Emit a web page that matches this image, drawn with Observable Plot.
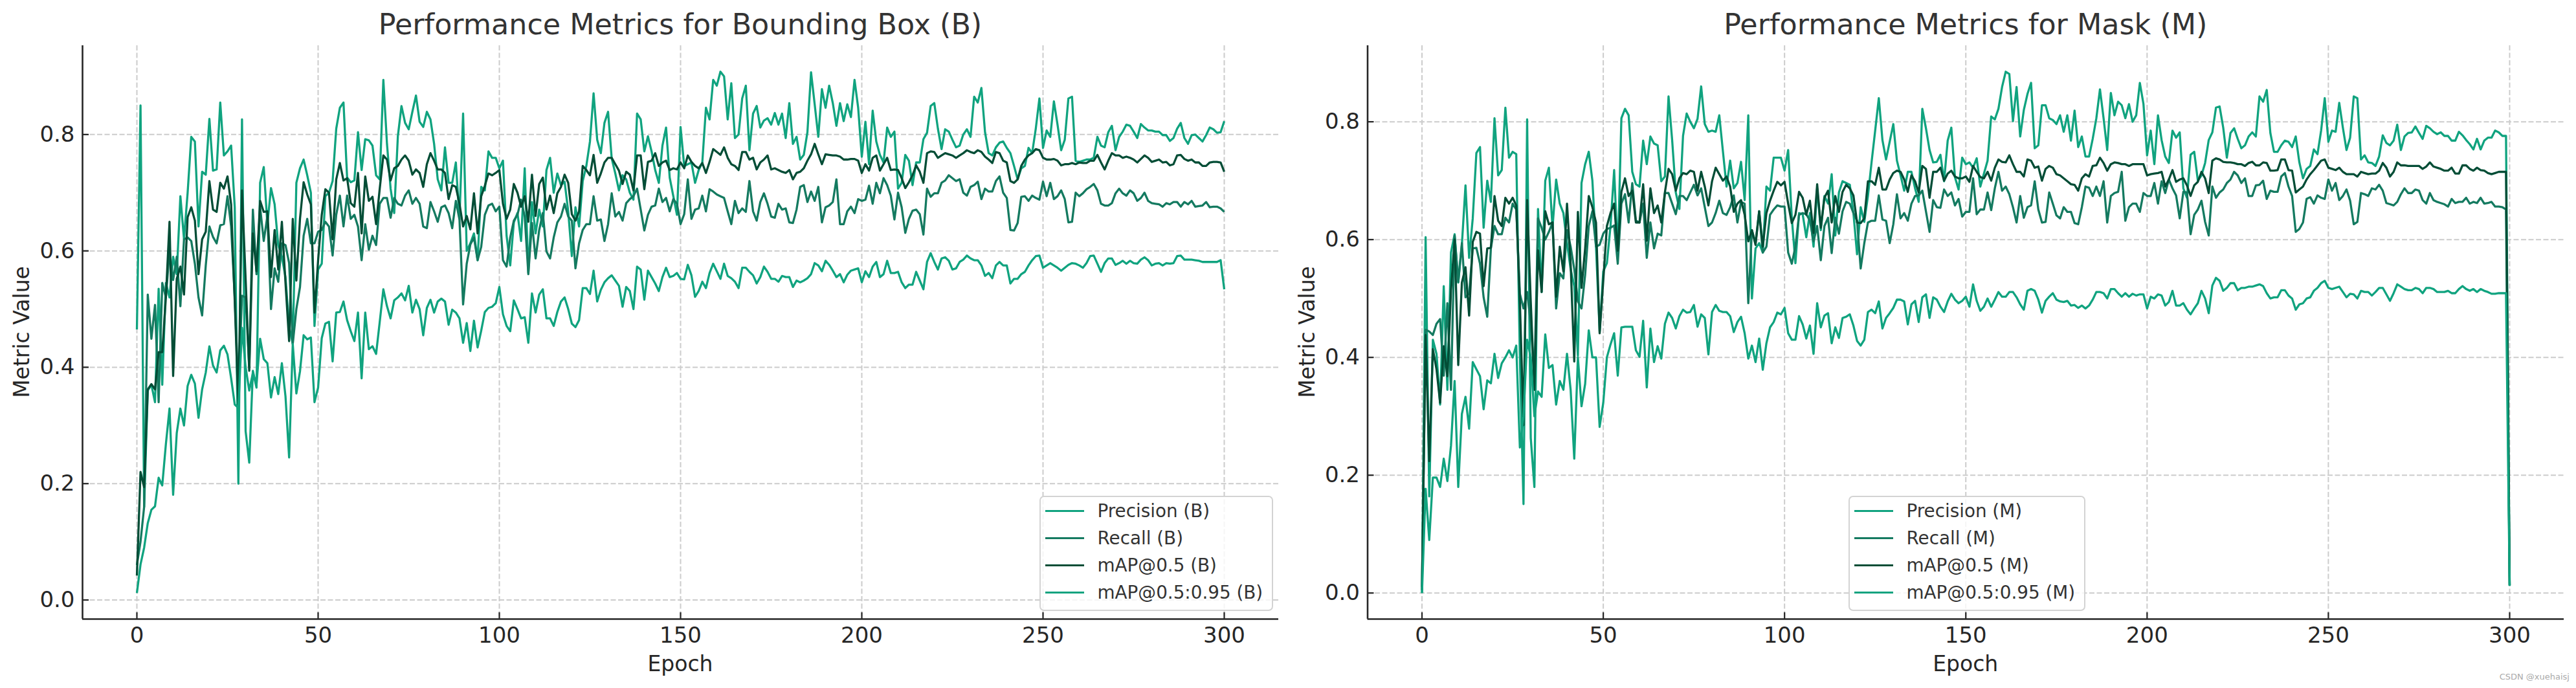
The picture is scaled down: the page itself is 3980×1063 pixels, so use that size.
<!DOCTYPE html>
<html><head><meta charset="utf-8">
<script src="https://cdn.jsdelivr.net/npm/d3@7"></script>
<script src="https://cdn.jsdelivr.net/npm/@observablehq/plot@0.6"></script>
<style>
html,body{margin:0;padding:0;background:#fff;}
#fig{position:relative;width:3980px;height:1063px;overflow:hidden;font-family:"DejaVu Sans",sans-serif;color:#262626;background:#fff;}
.panel{position:absolute;top:0;}
.txt{position:absolute;white-space:nowrap;line-height:1;}
.title{font-size:44.4px;color:#333;transform:translateX(-50%);}
.xlabel{font-size:33px;color:#262626;transform:translateX(-50%);}
.ylabel{font-size:33px;color:#262626;transform:translate(-50%,-50%) rotate(-90deg);}
.legend{position:absolute;box-sizing:border-box;border:2.5px solid #d3d3d3;border-radius:7px;background:rgba(255,255,255,0.8);padding:0.5px 14px 0 0;}
.legend .row{height:42px;display:flex;align-items:center;font-size:27.8px;color:#333;white-space:nowrap;}
.legend .sw{width:60px;height:3.4px;margin-left:6.5px;margin-right:21px;}
.wm{font-size:13px;color:#aaa;}
</style>
</head><body>
<div id="fig"></div>
<script>
// ---------- data ----------
const epochs = d3.range(0, 301);
const xTicks = [0, 50, 100, 150, 200, 250, 300];
const yTicks = [0, 0.2, 0.4, 0.6, 0.8];
const namesB = ["Precision (B)", "Recall (B)", "mAP@0.5 (B)", "mAP@0.5:0.95 (B)"];
const namesM = ["Precision (M)", "Recall (M)", "mAP@0.5 (M)", "mAP@0.5:0.95 (M)"];
const titles = ["Performance Metrics for Bounding Box (B)", "Performance Metrics for Mask (M)"];
const colors = ["#10a37f", "#147a60", "#034d36", "#10a37f"];

const precisionB = [0.465,0.85,0.16,0.36,0.37,0.34,0.535,0.37,0.545,0.52,
0.59,0.56,0.694,0.62,0.70,0.796,0.788,0.642,0.736,0.731,
0.827,0.738,0.74,0.855,0.764,0.771,0.781,0.675,0.20,0.826,
0.29,0.236,0.394,0.365,0.717,0.744,0.646,0.708,0.68,0.61,
0.59,0.555,0.47,0.44,0.717,0.742,0.757,0.73,0.70,0.471,
0.568,0.578,0.694,0.70,0.72,0.81,0.846,0.855,0.726,0.718,
0.721,0.804,0.739,0.792,0.79,0.781,0.73,0.723,0.894,0.784,
0.707,0.665,0.797,0.849,0.82,0.809,0.839,0.867,0.822,0.813,
0.839,0.826,0.784,0.723,0.704,0.778,0.717,0.717,0.752,0.655,
0.836,0.60,0.613,0.63,0.584,0.71,0.704,0.771,0.76,0.76,
0.742,0.755,0.626,0.575,0.649,0.665,0.617,0.742,0.562,0.684,
0.63,0.671,0.642,0.739,0.76,0.70,0.733,0.713,0.719,0.668,
0.591,0.675,0.642,0.72,0.746,0.788,0.871,0.791,0.768,0.82,
0.839,0.759,0.733,0.704,0.73,0.723,0.70,0.688,0.836,0.826,
0.771,0.797,0.771,0.739,0.717,0.781,0.812,0.726,0.694,0.662,
0.813,0.746,0.749,0.752,0.717,0.739,0.752,0.846,0.826,0.894,
0.884,0.908,0.90,0.826,0.888,0.794,0.80,0.862,0.884,0.773,
0.836,0.849,0.812,0.824,0.828,0.817,0.837,0.817,0.836,0.794,
0.854,0.784,0.796,0.757,0.765,0.804,0.907,0.852,0.796,0.878,
0.846,0.884,0.854,0.815,0.854,0.823,0.852,0.83,0.894,0.846,
0.762,0.822,0.749,0.841,0.788,0.765,0.752,0.812,0.796,0.805,
0.707,0.717,0.765,0.755,0.713,0.752,0.752,0.792,0.803,0.849,
0.854,0.81,0.775,0.809,0.805,0.791,0.778,0.781,0.80,0.809,
0.796,0.865,0.855,0.88,0.804,0.768,0.764,0.778,0.786,0.788,
0.777,0.768,0.746,0.723,0.742,0.746,0.777,0.768,0.81,0.862,
0.777,0.807,0.796,0.857,0.817,0.773,0.791,0.862,0.865,0.755,
0.753,0.755,0.757,0.757,0.76,0.796,0.781,0.778,0.804,0.815,
0.773,0.796,0.805,0.817,0.815,0.805,0.794,0.818,0.812,0.807,
0.807,0.805,0.805,0.799,0.799,0.789,0.794,0.81,0.82,0.794,
0.784,0.799,0.80,0.794,0.788,0.799,0.812,0.809,0.803,0.804,
0.823];

const recallB = [0.06,0.10,0.16,0.525,0.449,0.507,0.34,0.545,0.52,0.60,
0.55,0.59,0.505,0.62,0.623,0.617,0.578,0.52,0.489,0.575,
0.642,0.624,0.613,0.644,0.646,0.694,0.642,0.52,0.36,0.523,
0.52,0.40,0.671,0.56,0.675,0.617,0.66,0.50,0.57,0.547,
0.613,0.61,0.579,0.44,0.50,0.538,0.626,0.655,0.613,0.613,
0.633,0.636,0.65,0.642,0.592,0.662,0.695,0.642,0.695,0.655,
0.662,0.642,0.584,0.646,0.602,0.626,0.61,0.681,0.691,0.691,
0.657,0.691,0.681,0.678,0.695,0.704,0.681,0.691,0.681,0.642,
0.639,0.684,0.668,0.65,0.675,0.678,0.665,0.639,0.686,0.654,
0.508,0.578,0.611,0.623,0.584,0.607,0.662,0.678,0.681,0.668,
0.676,0.584,0.573,0.623,0.652,0.662,0.688,0.659,0.56,0.648,
0.587,0.636,0.665,0.599,0.587,0.623,0.649,0.659,0.681,0.659,
0.652,0.57,0.613,0.636,0.646,0.646,0.694,0.652,0.654,0.617,
0.646,0.699,0.659,0.667,0.652,0.682,0.689,0.694,0.707,0.671,
0.635,0.662,0.676,0.678,0.707,0.684,0.691,0.668,0.689,0.681,
0.646,0.663,0.723,0.655,0.671,0.673,0.695,0.668,0.706,0.702,
0.697,0.694,0.691,0.668,0.646,0.686,0.665,0.673,0.667,0.72,
0.668,0.652,0.684,0.699,0.681,0.659,0.657,0.681,0.671,0.673,
0.649,0.648,0.671,0.71,0.713,0.684,0.702,0.686,0.71,0.649,
0.675,0.678,0.684,0.723,0.646,0.646,0.668,0.676,0.665,0.689,
0.686,0.688,0.712,0.681,0.717,0.699,0.725,0.713,0.695,0.654,
0.70,0.675,0.631,0.655,0.669,0.671,0.663,0.628,0.707,0.693,
0.699,0.699,0.717,0.721,0.73,0.725,0.72,0.723,0.70,0.695,
0.71,0.713,0.719,0.689,0.707,0.702,0.702,0.72,0.728,0.70,
0.691,0.636,0.635,0.648,0.693,0.694,0.686,0.695,0.691,0.688,
0.719,0.694,0.717,0.689,0.694,0.704,0.689,0.649,0.65,0.70,
0.694,0.699,0.706,0.71,0.715,0.704,0.681,0.678,0.678,0.682,
0.699,0.707,0.699,0.695,0.704,0.699,0.686,0.691,0.70,0.686,
0.682,0.681,0.68,0.676,0.682,0.68,0.684,0.684,0.676,0.684,
0.68,0.686,0.676,0.677,0.678,0.684,0.675,0.676,0.676,0.673,
0.667];

const map50B = [0.042,0.22,0.194,0.362,0.371,0.362,0.426,0.426,0.52,0.65,
0.385,0.552,0.573,0.525,0.658,0.675,0.652,0.56,0.62,0.633,
0.72,0.671,0.667,0.717,0.707,0.728,0.68,0.513,0.332,0.704,
0.552,0.394,0.63,0.565,0.686,0.667,0.668,0.555,0.636,0.568,
0.65,0.545,0.445,0.655,0.549,0.655,0.718,0.697,0.68,0.494,
0.584,0.662,0.706,0.70,0.62,0.723,0.751,0.721,0.725,0.682,
0.676,0.734,0.63,0.728,0.686,0.693,0.646,0.707,0.764,0.757,
0.721,0.742,0.746,0.757,0.764,0.755,0.731,0.74,0.734,0.71,
0.749,0.768,0.755,0.74,0.74,0.734,0.689,0.713,0.71,0.681,
0.642,0.66,0.637,0.699,0.63,0.694,0.712,0.733,0.73,0.734,
0.739,0.681,0.655,0.671,0.715,0.70,0.676,0.694,0.65,0.731,
0.66,0.715,0.726,0.671,0.695,0.665,0.699,0.71,0.731,0.717,
0.663,0.652,0.668,0.746,0.739,0.73,0.765,0.717,0.733,0.752,
0.76,0.76,0.749,0.738,0.715,0.736,0.731,0.704,0.764,0.764,
0.706,0.753,0.755,0.768,0.746,0.752,0.755,0.739,0.742,0.74,
0.752,0.742,0.764,0.753,0.746,0.742,0.751,0.734,0.753,0.775,
0.77,0.765,0.778,0.76,0.749,0.746,0.739,0.77,0.77,0.757,
0.76,0.74,0.752,0.757,0.764,0.74,0.742,0.739,0.736,0.734,
0.739,0.723,0.734,0.736,0.742,0.755,0.766,0.784,0.766,0.749,
0.766,0.765,0.764,0.764,0.762,0.757,0.757,0.758,0.758,0.755,
0.734,0.749,0.738,0.76,0.764,0.738,0.749,0.76,0.739,0.74,
0.739,0.725,0.708,0.718,0.73,0.747,0.736,0.717,0.768,0.771,
0.77,0.76,0.764,0.768,0.766,0.764,0.76,0.764,0.768,0.773,
0.77,0.768,0.773,0.77,0.762,0.757,0.751,0.77,0.768,0.755,
0.752,0.72,0.717,0.723,0.746,0.757,0.764,0.768,0.775,0.773,
0.76,0.757,0.757,0.758,0.755,0.747,0.749,0.749,0.751,0.749,
0.752,0.751,0.751,0.755,0.755,0.765,0.752,0.74,0.755,0.768,
0.764,0.764,0.76,0.762,0.76,0.757,0.752,0.758,0.764,0.76,
0.753,0.755,0.757,0.752,0.753,0.747,0.749,0.764,0.765,0.758,
0.755,0.757,0.752,0.752,0.746,0.746,0.752,0.753,0.753,0.752,
0.736];

const map5095B = [0.012,0.061,0.09,0.132,0.155,0.161,0.21,0.197,0.268,0.329,
0.181,0.287,0.329,0.30,0.368,0.387,0.372,0.313,0.362,0.391,
0.436,0.403,0.391,0.429,0.437,0.422,0.381,0.336,0.33,0.468,
0.40,0.36,0.39,0.37,0.449,0.414,0.407,0.348,0.383,0.354,
0.407,0.35,0.245,0.44,0.355,0.393,0.455,0.448,0.451,0.34,
0.365,0.45,0.475,0.478,0.41,0.494,0.495,0.513,0.481,0.462,
0.445,0.494,0.381,0.494,0.431,0.436,0.423,0.478,0.534,0.505,
0.484,0.515,0.52,0.527,0.515,0.54,0.494,0.516,0.50,0.455,
0.502,0.516,0.494,0.513,0.518,0.513,0.473,0.499,0.494,0.484,
0.442,0.476,0.428,0.48,0.434,0.463,0.495,0.502,0.504,0.51,
0.538,0.491,0.471,0.462,0.515,0.50,0.484,0.486,0.442,0.527,
0.494,0.525,0.534,0.484,0.484,0.471,0.495,0.513,0.52,0.50,
0.475,0.469,0.481,0.536,0.536,0.526,0.566,0.513,0.533,0.546,
0.553,0.558,0.549,0.54,0.504,0.538,0.531,0.50,0.573,0.568,
0.516,0.566,0.555,0.544,0.531,0.555,0.571,0.555,0.557,0.562,
0.552,0.551,0.576,0.558,0.521,0.531,0.547,0.536,0.562,0.578,
0.565,0.552,0.578,0.557,0.553,0.547,0.536,0.571,0.571,0.564,
0.558,0.544,0.555,0.573,0.564,0.552,0.552,0.547,0.557,0.555,
0.555,0.538,0.549,0.546,0.549,0.553,0.56,0.579,0.575,0.565,
0.583,0.576,0.566,0.555,0.56,0.546,0.559,0.566,0.568,0.57,
0.546,0.565,0.555,0.573,0.581,0.555,0.56,0.583,0.562,0.562,
0.564,0.546,0.536,0.542,0.542,0.564,0.549,0.534,0.581,0.596,
0.581,0.568,0.587,0.589,0.583,0.568,0.57,0.581,0.585,0.592,
0.587,0.584,0.584,0.575,0.557,0.562,0.553,0.575,0.581,0.575,
0.575,0.544,0.552,0.552,0.56,0.564,0.575,0.584,0.591,0.592,
0.571,0.575,0.579,0.575,0.571,0.566,0.571,0.576,0.579,0.578,
0.575,0.571,0.579,0.591,0.592,0.578,0.564,0.579,0.587,0.587,
0.576,0.579,0.583,0.578,0.583,0.579,0.578,0.585,0.589,0.584,
0.575,0.578,0.579,0.575,0.579,0.578,0.579,0.591,0.592,0.585,
0.585,0.585,0.584,0.583,0.581,0.581,0.581,0.581,0.581,0.584,
0.534];

const precisionM = [0.0,0.604,0.164,0.43,0.406,0.32,0.521,0.345,0.578,0.609,
0.527,0.591,0.692,0.569,0.636,0.747,0.757,0.62,0.70,0.664,
0.806,0.709,0.718,0.824,0.739,0.749,0.745,0.40,0.151,0.804,
0.263,0.18,0.652,0.511,0.70,0.722,0.62,0.702,0.661,0.645,
0.594,0.55,0.521,0.403,0.696,0.728,0.749,0.70,0.588,0.444,
0.546,0.56,0.623,0.718,0.575,0.806,0.822,0.811,0.715,0.694,
0.69,0.768,0.728,0.775,0.763,0.76,0.699,0.707,0.843,0.769,
0.68,0.652,0.776,0.814,0.80,0.789,0.805,0.86,0.796,0.783,
0.785,0.783,0.811,0.75,0.69,0.734,0.687,0.696,0.732,0.667,
0.811,0.50,0.585,0.594,0.578,0.69,0.683,0.739,0.739,0.739,
0.717,0.752,0.637,0.56,0.645,0.643,0.604,0.645,0.588,0.687,
0.616,0.674,0.661,0.711,0.607,0.68,0.699,0.696,0.693,0.645,
0.575,0.655,0.63,0.674,0.731,0.785,0.84,0.769,0.736,0.766,
0.796,0.734,0.709,0.683,0.715,0.715,0.687,0.664,0.822,0.789,
0.752,0.731,0.732,0.744,0.699,0.768,0.79,0.706,0.685,0.739,
0.728,0.731,0.722,0.738,0.69,0.712,0.734,0.809,0.804,0.822,
0.859,0.885,0.881,0.801,0.859,0.775,0.82,0.847,0.866,0.755,
0.76,0.828,0.828,0.806,0.803,0.796,0.811,0.783,0.811,0.768,
0.819,0.757,0.775,0.741,0.741,0.771,0.806,0.855,0.806,0.752,
0.849,0.811,0.834,0.828,0.806,0.83,0.80,0.811,0.866,0.83,
0.743,0.785,0.728,0.811,0.769,0.741,0.73,0.785,0.773,0.782,
0.687,0.671,0.744,0.749,0.70,0.709,0.73,0.769,0.782,0.824,
0.826,0.79,0.739,0.781,0.789,0.771,0.755,0.76,0.775,0.782,
0.775,0.843,0.834,0.854,0.781,0.749,0.749,0.76,0.768,0.766,
0.757,0.775,0.731,0.704,0.72,0.725,0.753,0.745,0.785,0.84,
0.766,0.785,0.783,0.832,0.79,0.752,0.773,0.843,0.84,0.736,
0.743,0.731,0.73,0.725,0.741,0.777,0.764,0.76,0.768,0.795,
0.752,0.775,0.781,0.782,0.792,0.781,0.771,0.793,0.789,0.783,
0.779,0.782,0.776,0.776,0.768,0.768,0.783,0.777,0.769,0.762,
0.753,0.771,0.753,0.768,0.773,0.773,0.785,0.782,0.776,0.776,
0.014];

const recallM = [0.01,0.447,0.444,0.438,0.457,0.465,0.369,0.492,0.345,0.607,
0.528,0.594,0.502,0.508,0.585,0.586,0.559,0.502,0.469,0.585,
0.623,0.609,0.609,0.637,0.629,0.661,0.651,0.508,0.483,0.511,
0.457,0.365,0.636,0.62,0.60,0.613,0.629,0.483,0.543,0.534,
0.616,0.588,0.55,0.495,0.483,0.54,0.623,0.648,0.588,0.591,
0.61,0.618,0.62,0.624,0.559,0.661,0.677,0.629,0.696,0.632,
0.629,0.661,0.569,0.629,0.585,0.61,0.607,0.679,0.679,0.661,
0.643,0.674,0.674,0.667,0.68,0.693,0.675,0.687,0.655,0.623,
0.629,0.645,0.666,0.645,0.642,0.655,0.675,0.629,0.664,0.661,
0.492,0.616,0.594,0.648,0.578,0.588,0.642,0.651,0.658,0.656,
0.656,0.578,0.559,0.588,0.642,0.645,0.643,0.632,0.597,0.623,
0.565,0.623,0.637,0.577,0.637,0.61,0.648,0.664,0.661,0.645,
0.632,0.551,0.594,0.629,0.632,0.632,0.675,0.634,0.632,0.594,
0.626,0.677,0.636,0.645,0.632,0.661,0.674,0.675,0.683,0.648,
0.613,0.667,0.655,0.654,0.685,0.674,0.68,0.658,0.669,0.639,
0.647,0.647,0.704,0.643,0.651,0.651,0.68,0.65,0.687,0.715,
0.683,0.69,0.677,0.655,0.629,0.674,0.637,0.655,0.658,0.699,
0.651,0.629,0.63,0.68,0.661,0.641,0.636,0.655,0.647,0.647,
0.628,0.626,0.655,0.69,0.688,0.674,0.69,0.674,0.699,0.629,
0.674,0.679,0.681,0.715,0.632,0.655,0.661,0.661,0.647,0.679,
0.674,0.674,0.696,0.661,0.699,0.679,0.702,0.687,0.675,0.636,
0.681,0.68,0.609,0.642,0.651,0.666,0.63,0.607,0.69,0.671,
0.68,0.685,0.696,0.702,0.715,0.709,0.696,0.704,0.674,0.674,
0.692,0.693,0.70,0.669,0.683,0.681,0.681,0.707,0.713,0.69,
0.674,0.613,0.618,0.629,0.669,0.672,0.661,0.675,0.671,0.669,
0.702,0.683,0.696,0.667,0.674,0.685,0.666,0.626,0.63,0.679,
0.677,0.674,0.687,0.685,0.693,0.683,0.662,0.66,0.658,0.664,
0.677,0.687,0.679,0.679,0.685,0.683,0.667,0.661,0.679,0.667,
0.664,0.662,0.66,0.656,0.669,0.662,0.664,0.664,0.671,0.661,
0.664,0.662,0.671,0.661,0.662,0.664,0.656,0.656,0.655,0.651,
0.013];

const map50M = [0.005,0.438,0.224,0.414,0.38,0.323,0.419,0.368,0.514,0.60,
0.387,0.527,0.553,0.471,0.596,0.613,0.61,0.521,0.585,0.586,
0.674,0.632,0.623,0.671,0.661,0.671,0.658,0.495,0.285,0.667,
0.495,0.345,0.582,0.511,0.648,0.626,0.629,0.503,0.588,0.546,
0.661,0.559,0.393,0.647,0.518,0.585,0.674,0.655,0.629,0.441,
0.53,0.623,0.645,0.661,0.581,0.681,0.704,0.674,0.683,0.629,
0.629,0.694,0.598,0.687,0.645,0.658,0.629,0.68,0.72,0.711,
0.683,0.704,0.713,0.711,0.717,0.715,0.683,0.715,0.69,0.658,
0.699,0.722,0.711,0.70,0.707,0.69,0.647,0.661,0.667,0.642,
0.597,0.616,0.591,0.648,0.588,0.645,0.666,0.683,0.698,0.692,
0.698,0.661,0.628,0.642,0.681,0.671,0.642,0.666,0.611,0.694,
0.62,0.671,0.683,0.629,0.674,0.647,0.681,0.693,0.687,0.675,
0.629,0.628,0.636,0.699,0.699,0.693,0.722,0.685,0.685,0.702,
0.713,0.717,0.715,0.702,0.681,0.709,0.699,0.68,0.725,0.72,
0.671,0.715,0.715,0.722,0.70,0.712,0.717,0.707,0.704,0.704,
0.707,0.698,0.725,0.715,0.706,0.704,0.715,0.70,0.722,0.736,
0.732,0.731,0.743,0.728,0.715,0.715,0.707,0.736,0.734,0.722,
0.724,0.70,0.72,0.725,0.722,0.711,0.709,0.704,0.699,0.694,
0.693,0.683,0.704,0.711,0.707,0.725,0.726,0.739,0.73,0.717,
0.728,0.731,0.73,0.728,0.728,0.725,0.728,0.728,0.728,0.728,
0.709,0.711,0.712,0.713,0.715,0.69,0.702,0.718,0.698,0.702,
0.704,0.692,0.674,0.692,0.698,0.715,0.704,0.679,0.734,0.738,
0.736,0.732,0.731,0.731,0.73,0.728,0.728,0.725,0.73,0.732,
0.726,0.726,0.731,0.73,0.717,0.717,0.718,0.736,0.736,0.718,
0.717,0.68,0.685,0.69,0.702,0.711,0.718,0.726,0.734,0.736,
0.722,0.72,0.718,0.722,0.715,0.711,0.711,0.711,0.707,0.715,
0.713,0.711,0.712,0.712,0.717,0.73,0.722,0.707,0.715,0.731,
0.726,0.726,0.725,0.725,0.725,0.725,0.72,0.724,0.731,0.724,
0.722,0.72,0.717,0.717,0.722,0.712,0.712,0.726,0.726,0.72,
0.717,0.722,0.718,0.717,0.713,0.711,0.713,0.715,0.715,0.715,
0.013];

const map5095M = [0.0,0.177,0.09,0.196,0.196,0.18,0.228,0.19,0.25,0.36,
0.18,0.304,0.333,0.279,0.392,0.38,0.368,0.312,0.361,0.356,
0.406,0.365,0.39,0.40,0.412,0.40,0.42,0.247,0.30,0.43,
0.40,0.30,0.342,0.333,0.439,0.382,0.387,0.32,0.36,0.345,
0.406,0.345,0.228,0.40,0.317,0.355,0.446,0.40,0.40,0.282,
0.323,0.40,0.422,0.441,0.369,0.451,0.452,0.452,0.452,0.412,
0.401,0.462,0.349,0.449,0.392,0.419,0.398,0.457,0.476,0.467,
0.449,0.47,0.481,0.476,0.477,0.489,0.452,0.473,0.467,0.405,
0.477,0.489,0.479,0.477,0.477,0.47,0.443,0.46,0.469,0.441,
0.398,0.42,0.392,0.432,0.379,0.424,0.451,0.46,0.476,0.473,
0.484,0.441,0.43,0.43,0.47,0.456,0.432,0.454,0.406,0.492,
0.451,0.471,0.475,0.424,0.451,0.433,0.467,0.469,0.473,0.454,
0.428,0.42,0.43,0.477,0.481,0.475,0.495,0.449,0.467,0.475,
0.484,0.498,0.498,0.495,0.456,0.49,0.496,0.46,0.502,0.507,
0.467,0.502,0.498,0.486,0.477,0.495,0.508,0.498,0.492,0.496,
0.503,0.486,0.524,0.496,0.479,0.486,0.50,0.486,0.498,0.511,
0.503,0.503,0.511,0.511,0.502,0.49,0.481,0.513,0.516,0.513,
0.498,0.476,0.496,0.503,0.509,0.498,0.495,0.494,0.496,0.488,
0.489,0.484,0.488,0.483,0.488,0.498,0.511,0.511,0.509,0.50,
0.516,0.516,0.509,0.503,0.509,0.503,0.508,0.505,0.507,0.507,
0.483,0.503,0.50,0.507,0.505,0.488,0.494,0.513,0.488,0.488,
0.492,0.481,0.473,0.483,0.492,0.513,0.50,0.475,0.522,0.535,
0.53,0.513,0.518,0.526,0.526,0.514,0.518,0.518,0.52,0.52,
0.522,0.524,0.521,0.509,0.50,0.502,0.502,0.514,0.514,0.505,
0.50,0.481,0.49,0.492,0.50,0.502,0.513,0.518,0.526,0.53,
0.518,0.516,0.518,0.52,0.511,0.502,0.508,0.507,0.50,0.513,
0.511,0.511,0.505,0.511,0.518,0.518,0.507,0.496,0.509,0.524,
0.52,0.516,0.514,0.514,0.518,0.516,0.509,0.518,0.518,0.516,
0.511,0.511,0.511,0.513,0.509,0.509,0.516,0.521,0.516,0.513,
0.516,0.511,0.516,0.513,0.511,0.508,0.508,0.509,0.509,0.509,
0.012];

// ---------- drawing ----------
const fig = document.getElementById("fig");
const FIG_H = 1063, PANEL_W = 1990, M_TOP = 70, M_BOTTOM = 107;

function makePanel(valuesList, names, left, marginLeft, marginRight) {
  const all = valuesList.flat();
  const lo = d3.min(all), hi = d3.max(all), pad = (hi - lo) * 0.05;
  const yDomain = [lo - pad, hi + pad];
  const xDomain = [-15, 315];
  const gridStyle = {stroke: "#cccccc", strokeOpacity: 1, strokeWidth: 2, strokeDasharray: "8,3.5"};
  const chart = Plot.plot({
    width: PANEL_W, height: FIG_H,
    marginLeft, marginRight, marginTop: M_TOP, marginBottom: M_BOTTOM,
    x: {domain: xDomain},
    y: {domain: yDomain},
    style: {fontFamily: "DejaVu Sans, sans-serif", fontSize: "34px", color: "#262626", background: "transparent", overflow: "visible"},
    marks: [
      Plot.gridX(xTicks, gridStyle),
      Plot.gridY(yTicks, gridStyle),
      ...valuesList.map((vals, k) => Plot.line(vals, {x: epochs, y: d => d, stroke: colors[k], strokeWidth: 3.3, strokeLinejoin: "round", strokeLinecap: "butt"})),
      Plot.ruleX([xDomain[0]], {stroke: "#262626", strokeWidth: 2.6}),
      Plot.ruleY([yDomain[0]], {stroke: "#262626", strokeWidth: 2.6}),
      Plot.axisX(xTicks, {tickSize: -10, tickPadding: 22.5, strokeWidth: 2.2, label: null, fontSize: 34}),
      Plot.axisY(yTicks, {tickSize: -10, tickPadding: 22, strokeWidth: 2.2, label: null, fontSize: 34, tickFormat: d3.format(".1f")})
    ]
  });
  chart.classList.add("panel");
  chart.style.left = left + "px";
  fig.appendChild(chart);
  return {frameLeft: left + marginLeft, frameRight: left + PANEL_W - marginRight};
}

function addText(cls, text, x, y) {
  const d = document.createElement("div");
  d.className = "txt " + cls;
  d.textContent = text;
  d.style.left = x + "px";
  d.style.top = y + "px";
  fig.appendChild(d);
  return d;
}

function addLegend(names, left, top) {
  const box = document.createElement("div");
  box.className = "legend";
  box.style.left = left + "px";
  box.style.top = top + "px";
  box.style.height = "178px";
  names.forEach((n, k) => {
    const row = document.createElement("div");
    row.className = "row";
    const sw = document.createElement("div");
    sw.className = "sw";
    sw.style.background = colors[k];
    const t = document.createElement("span");
    t.textContent = n;
    row.appendChild(sw); row.appendChild(t);
    box.appendChild(row);
  });
  fig.appendChild(box);
}

const panels = [
  {vals: [precisionB, recallB, map50B, map5095B], names: namesB, left: 0, ml: 127, mr: 15, legend: [1606, 766]},
  {vals: [precisionM, recallM, map50M, map5095M], names: namesM, left: 1990, ml: 122.5, mr: 19, legend: [2856, 766]}
];
panels.forEach((p, i) => {
  const f = makePanel(p.vals, p.names, p.left, p.ml, p.mr);
  const cx = (f.frameLeft + f.frameRight) / 2;
  const cy = (M_TOP + (FIG_H - M_BOTTOM)) / 2;
  addText("title", titles[i], cx, 16.4);
  addText("xlabel", "Epoch", cx, 1009);
  addText("ylabel", "Metric Value", f.frameLeft - 94, cy);
  addLegend(p.names, p.legend[0], p.legend[1]);
});
const wm = addText("wm", "CSDN @xuehaisj", 0, 1039);
wm.style.left = "auto"; wm.style.right = "10px";
</script>
</body></html>
